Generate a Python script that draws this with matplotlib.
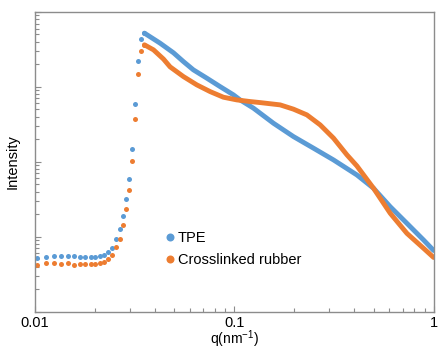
import matplotlib
matplotlib.use('Agg')
import matplotlib.pyplot as plt
from matplotlib.ticker import LogLocator, NullFormatter

plt.rcParams['font.family'] = ['Liberation Sans', 'DejaVu Sans']
plt.rcParams['mathtext.fontset'] = 'custom'
plt.rcParams['mathtext.rm'] = 'Liberation Sans'

BLUE = '#5b9bd5'
ORANGE = '#ed7d31'

# sparse low-q points (shown as separate dots)
q_dots = [0.0102, 0.0113, 0.0124, 0.0135, 0.0146, 0.0157, 0.0168, 0.0179,
          0.0190, 0.0201, 0.0212, 0.0222, 0.0233, 0.0244, 0.0255, 0.0266,
          0.0277, 0.0287, 0.0297, 0.0308, 0.0319, 0.0330, 0.0342, 0.0354]
tpe_dots = [5.26, 5.42, 5.60, 5.46, 5.55, 5.46, 5.37, 5.32,
            5.37, 5.42, 5.55, 5.71, 6.17, 7.08, 9.20, 12.5,
            19.0, 32.0, 59.7, 147, 587, 2244, 4375, 5212]
rubber_dots = [4.21, 4.43, 4.47, 4.38, 4.43, 4.16, 4.30, 4.30,
               4.30, 4.34, 4.43, 4.61, 5.01, 5.71, 7.31, 9.35,
               14.4, 23.5, 41.8, 102, 374, 1493, 3055, 3639]

# dense part past the peak (dots merge into a thick line)
q_tpe = [0.0354, 0.0424, 0.0495, 0.0555, 0.0623, 0.0728, 0.0848, 0.0990,
         0.1069, 0.1247, 0.1572, 0.1981, 0.2496, 0.3145, 0.4120, 0.4993,
         0.6055, 0.7345, 0.8898, 1.0]
i_tpe = [5212, 3831, 2850, 2178, 1687, 1306, 1009, 782,
         670, 520, 327, 217, 152, 106, 66.8, 44.4,
         25.2, 15.1, 9.06, 6.56]

q_rubber = [0.0354, 0.0393, 0.0441, 0.0476, 0.0555, 0.0648, 0.0756, 0.0881,
            0.1029, 0.1200, 0.1348, 0.1698, 0.1981, 0.2312, 0.2696, 0.3145,
            0.3671, 0.4120, 0.4993, 0.6055, 0.7345, 0.8898, 1.0]
i_rubber = [3639, 3119, 2350, 1850, 1374, 1064, 865, 728,
            670, 637, 617, 575, 504, 423, 311, 207,
            124, 88.2, 44.4, 20.6, 11.1, 7.02, 5.29]

fig = plt.figure(figsize=(4.38, 3.51), dpi=100)
ax = fig.add_axes([0.080, 0.112, 0.910, 0.854])

ax.plot(q_dots, tpe_dots, 'o', color=BLUE, ms=3.6, mew=0, label='TPE')
ax.plot(q_tpe, i_tpe, '-', color=BLUE, lw=3.5, solid_capstyle='round',
        solid_joinstyle='round')
ax.plot(q_dots, rubber_dots, 'o', color=ORANGE, ms=3.6, mew=0,
        label='Crosslinked rubber')
ax.plot(q_rubber, i_rubber, '-', color=ORANGE, lw=3.5, solid_capstyle='round',
        solid_joinstyle='round')

ax.set_xscale('log')
ax.set_yscale('log')
ax.set_xlim(0.01, 1)
ax.set_ylim(1, 1e4)

ax.xaxis.set_minor_locator(LogLocator(base=10, subs=range(2, 10)))
ax.xaxis.set_minor_formatter(NullFormatter())
ax.set_xticks([0.01, 0.1, 1])
ax.set_xticklabels(['0.01', '0.1', '1'])
ax.yaxis.set_minor_locator(LogLocator(base=10, subs=range(2, 10)))
ax.yaxis.set_major_formatter(NullFormatter())
ax.yaxis.set_minor_formatter(NullFormatter())

ax.tick_params(which='both', direction='in', color='#8c8c8c', width=0.8,
               labelsize=10.5, pad=3)
ax.tick_params(which='major', length=4)
ax.tick_params(which='minor', length=3)
ax.tick_params(axis='x', which='both', top=False)
ax.tick_params(axis='y', which='both', right=False)
for s in ax.spines.values():
    s.set_color('#8c8c8c')
    s.set_linewidth(1.0)

ax.set_xlabel('q(nm$^{-1}$)', fontsize=10, labelpad=-1)
ax.set_ylabel('Intensity', fontsize=10.5, labelpad=8)

ax.legend(loc='center left', bbox_to_anchor=(0.31, 0.21), frameon=False,
          fontsize=10.5, markerscale=1.6, handlelength=0.6, handletextpad=0.2,
          labelspacing=0.55, borderpad=0)

fig.savefig('out.png', dpi=100)
